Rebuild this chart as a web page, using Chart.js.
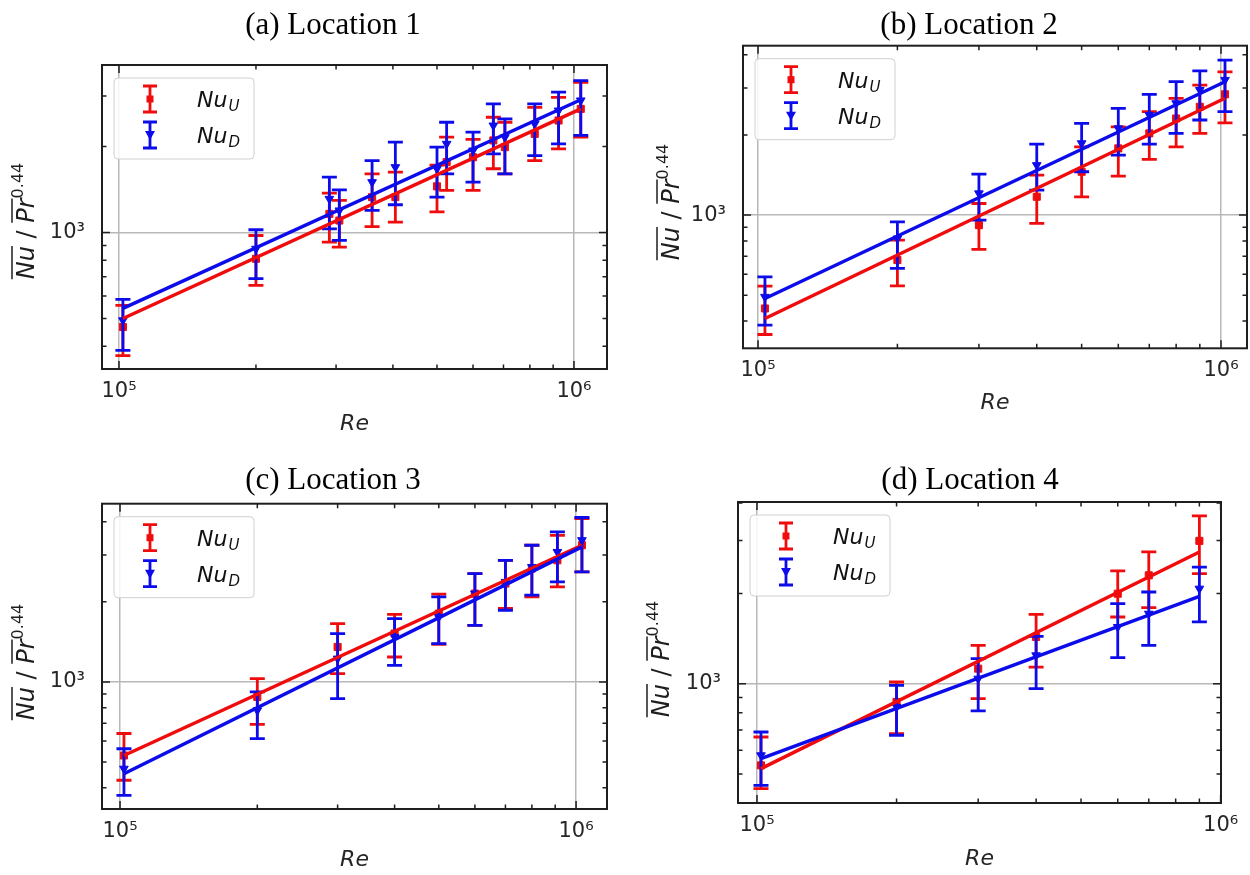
<!DOCTYPE html>
<html>
<head>
<meta charset="utf-8">
<script src="https://cdn.jsdelivr.net/npm/chart.js@4.4.1/dist/chart.umd.min.js"></script>
<style>
  body { margin: 0; background: #fff; overflow: hidden; }
  #fig { position: relative; width: 1250px; height: 875px; overflow: hidden; }
  canvas { position: absolute; }
</style>
</head>
<body>
<div id="fig">
  <canvas id="ca" width="625" height="437" style="left:0px;top:0px"></canvas>
  <canvas id="cb" width="640" height="437" style="left:625px;top:0px"></canvas>
  <canvas id="cc" width="625" height="438" style="left:0px;top:437px"></canvas>
  <canvas id="cd" width="650" height="438" style="left:615px;top:437px"></canvas>
</div>
<script>
const RED = 'rgb(240, 12, 12)';
const BLUE = 'rgb(12, 12, 235)';

// tick labels
const xTickVals = [1e5, 1e6];
const yTickVals = [1e3];
const tickText = { 1000: '10³', 100000: '10⁵', 1000000: '10⁶' };

// (a) Location 1
const reA = [1.02e5, 2.0e5, 2.9e5, 3.05e5, 3.6e5, 4.05e5, 5.0e5, 5.25e5, 6.0e5, 6.65e5, 7.05e5, 8.2e5, 9.25e5, 1.035e6];
const nuUA = [467, 809, 1162, 1101, 1329, 1329, 1450, 1762, 1833, 2099, 1988, 2213, 2464, 2706];
const nuUALow = [371, 653, 925, 889, 1049, 1087, 1180, 1403, 1403, 1671, 1604, 1785, 1962, 2154];
const nuUAHigh = [556, 976, 1373, 1294, 1603, 1625, 1720, 2154, 2115, 2530, 2430, 2739, 2970, 3352];
const nuDA = [493, 877, 1311, 1194, 1500, 1692, 1671, 2042, 1935, 2366, 2154, 2399, 2670, 2896];
const nuDALow = [387, 689, 1030, 938, 1194, 1250, 1329, 1604, 1500, 1884, 1604, 1857, 2042, 2185];
const nuDAHigh = [583, 1022, 1561, 1410, 1785, 2069, 1988, 2430, 2243, 2815, 2498, 2815, 3096, 3397];
const fitReA = [1.02e5, 1.035e6];
const fitUA = [500, 2706];
const fitDA = [543, 2912];

// (b) Location 2
const reB = [1.035e5, 2.0e5, 3.0e5, 4.0e5, 5.0e5, 6.0e5, 7.0e5, 8.0e5, 9.0e5, 1.02e6];
const nuUB = [446, 678, 917, 1172, 1455, 1781, 2028, 2307, 2553, 2843];
const nuUBLow = [356, 542, 743, 931, 1172, 1402, 1620, 1806, 2028, 2222];
const nuUBHigh = [541, 805, 1106, 1414, 1806, 2147, 2446, 2746, 3080, 3454];
const nuDB = [493, 817, 1207, 1541, 1862, 2118, 2378, 2631, 2952, 3221];
const nuDBLow = [386, 631, 957, 1242, 1455, 1681, 1848, 2028, 2277, 2446];
const nuDBHigh = [586, 944, 1426, 1848, 2213, 2519, 2843, 3173, 3481, 3823];
const fitReB = [1.035e5, 1.02e6];
const fitUB = [409, 2748];
const fitDB = [486, 3170];

// (c) Location 3
const reC = [1.02e5, 2.0e5, 3.0e5, 4.0e5, 5.0e5, 6.0e5, 7.0e5, 8.0e5, 9.1e5, 1.03e6];
const nuUC = [529, 878, 1354, 1520, 1807, 2148, 2343, 2669, 2866, 3265];
const nuUCLow = [427, 693, 1075, 1241, 1386, 1633, 1888, 2088, 2277, 2594];
const nuUCHigh = [640, 1029, 1657, 1796, 2139, 2552, 2866, 3265, 3558, 4111];
const nuDC = [472, 782, 1224, 1476, 1754, 2148, 2377, 2705, 3080, 3411];
const nuDCLow = [375, 612, 865, 1155, 1393, 1633, 1860, 2120, 2377, 2594];
const nuDCHigh = [561, 917, 1520, 1730, 2088, 2552, 2866, 3265, 3664, 4150];
const fitReC = [1.02e5, 1.03e6];
const fitUC = [529, 3265];
const fitDC = [452, 3220];

// (d) Location 4
const reD = [1.02e5, 2.0e5, 3.0e5, 4.0e5, 6.0e5, 7.0e5, 9.0e5];
const nuUD = [534, 869, 1122, 1431, 1995, 2297, 2993];
const nuUDLow = [447, 681, 891, 1136, 1668, 1792, 2326];
const nuUDHigh = [664, 1013, 1342, 1702, 2376, 2750, 3626];
const nuDD = [577, 836, 1039, 1243, 1545, 1711, 2074];
const nuDDLow = [458, 673, 811, 962, 1221, 1342, 1607];
const nuDDHigh = [690, 987, 1212, 1438, 1848, 2021, 2448];
const fitReD = [1.02e5, 9.0e5];
const fitUD = [521, 2748];
const fitDD = [562, 1954];

const panels = [
  { id: 'ca', title: '(a) Location 1', pl: 50, pr: 9, yw: 52, wr: 9, xh: 68, tTop: 7, tBot: 20.8, rePad: 0,
    xMin: 91760, xMax: 1.182e6, yMin: 333, yMax: 3853, ylab: [25, 221],
    re: reA, u: nuUA, uLo: nuUALow, uHi: nuUAHigh, d: nuDA, dLo: nuDALow, dHi: nuDAHigh,
    fitRe: fitReA, fitU: fitUA, fitD: fitDA },
  { id: 'cb', title: '(b) Location 2', pl: 66, pr: 18, yw: 52, wr: 0, xh: 88.7, tTop: 7, tBot: 1.5, rePad: 21,
    xMin: 92800, xMax: 1.138e6, yMin: 316, yMax: 4330, ylab: [45, 202],
    re: reB, u: nuUB, uLo: nuUBLow, uHi: nuUBHigh, d: nuDB, dLo: nuDBLow, dHi: nuDBHigh,
    fitRe: fitReB, fitU: fitUB, fitD: fitDB },
  { id: 'cc', title: '(c) Location 3', pl: 50, pr: 9, yw: 52, wr: 9, xh: 66, tTop: 25.5, tBot: 4, rePad: 2,
    xMin: 91300, xMax: 1.169e6, yMin: 333, yMax: 4677, ylab: [25, 225],
    re: reC, u: nuUC, uLo: nuUCLow, uHi: nuUCHigh, d: nuDC, dLo: nuDCLow, dHi: nuDCHigh,
    fitRe: fitReC, fitU: fitUC, fitD: fitDC },
  { id: 'cd', title: '(d) Location 4', pl: 71, pr: 11, yw: 52, wr: 33, xh: 72, tTop: 25.5, tBot: 2.3, rePad: 3,
    xMin: 91000, xMax: 1.002e6, yMin: 400, yMax: 4034, ylab: [45, 222],
    re: reD, u: nuUD, uLo: nuUDLow, uHi: nuUDHigh, d: nuDD, dLo: nuDDLow, dHi: nuDDHigh,
    fitRe: fitReD, fitU: fitUD, fitD: fitDD }
];

function logTicks(min, max) {
  const out = [];
  for (let e = Math.floor(Math.log10(min)); e <= Math.ceil(Math.log10(max)); e++) {
    for (let k = 1; k <= 9; k++) {
      const v = k * Math.pow(10, e);
      if (v > min && v < max) out.push({ v: v, major: k === 1 });
    }
  }
  return out;
}

function drawMarker(ctx, style, x, y, color) {
  ctx.fillStyle = color;
  ctx.beginPath();
  if (style === 'rect') {
    ctx.rect(x - 3.5, y - 3.5, 7, 7);
  } else {
    ctx.moveTo(x - 5, y - 4);
    ctx.lineTo(x + 5, y - 4);
    ctx.lineTo(x, y + 5);
    ctx.closePath();
  }
  ctx.fill();
}

// error bars drawn just before each scatter dataset
const errorBars = {
  id: 'errorBars',
  beforeDatasetDraw(chart, args) {
    const ds = chart.data.datasets[args.index];
    if (!ds.errLo) return;
    const xs = chart.scales.x, ys = chart.scales.y, ctx = chart.ctx;
    ctx.save();
    ctx.strokeStyle = ds.borderColor;
    ctx.lineWidth = 2.8;
    ds.data.forEach((pt, i) => {
      const px = xs.getPixelForValue(pt.x);
      const y1 = ys.getPixelForValue(ds.errLo[i]);
      const y2 = ys.getPixelForValue(ds.errHi[i]);
      ctx.beginPath();
      ctx.moveTo(px, y1); ctx.lineTo(px, y2);
      ctx.moveTo(px - 7.5, y1); ctx.lineTo(px + 7.5, y1);
      ctx.moveTo(px - 7.5, y2); ctx.lineTo(px + 7.5, y2);
      ctx.stroke();
    });
    ctx.restore();
  }
};

// frame, inward ticks, legend and y label
const decor = {
  id: 'decor',
  afterDraw(chart, args, opts) {
    const ctx = chart.ctx, ca = chart.chartArea;
    const xs = chart.scales.x, ys = chart.scales.y;
    ctx.save();
    ctx.strokeStyle = '#1e1e1e';
    ctx.lineWidth = 1.5;
    ctx.beginPath();
    logTicks(xs.min, xs.max).forEach(t => {
      const px = xs.getPixelForValue(t.v), len = t.major ? 8 : 4.5;
      ctx.moveTo(px, ca.bottom); ctx.lineTo(px, ca.bottom - len);
      ctx.moveTo(px, ca.top); ctx.lineTo(px, ca.top + len);
    });
    logTicks(ys.min, ys.max).forEach(t => {
      const py = ys.getPixelForValue(t.v), len = t.major ? 8 : 4.5;
      ctx.moveTo(ca.left, py); ctx.lineTo(ca.left + len, py);
      ctx.moveTo(ca.right, py); ctx.lineTo(ca.right - len, py);
    });
    ctx.stroke();
    ctx.lineWidth = 2;
    ctx.strokeRect(ca.left, ca.top, ca.right - ca.left, ca.bottom - ca.top);

    // legend
    const bx = ca.left + 12, by = ca.top + 13, bw = 140, bh = 81;
    ctx.beginPath();
    ctx.roundRect(bx, by, bw, bh, 4);
    ctx.fillStyle = 'rgba(255,255,255,0.85)';
    ctx.fill();
    ctx.strokeStyle = '#d0d0d0';
    ctx.lineWidth = 1;
    ctx.stroke();
    [{ c: RED, s: 'rect', sub: 'U', dy: 21 }, { c: BLUE, s: 'tri', sub: 'D', dy: 57 }].forEach(e => {
      const cx = bx + 36, cy = by + e.dy;
      ctx.strokeStyle = e.c;
      ctx.lineWidth = 2.8;
      ctx.beginPath();
      ctx.moveTo(cx, cy - 13); ctx.lineTo(cx, cy + 13);
      ctx.moveTo(cx - 7, cy - 13); ctx.lineTo(cx + 7, cy - 13);
      ctx.moveTo(cx - 7, cy + 13); ctx.lineTo(cx + 7, cy + 13);
      ctx.stroke();
      drawMarker(ctx, e.s, cx, cy, e.c);
      ctx.fillStyle = '#111';
      ctx.textBaseline = 'alphabetic';
      ctx.textAlign = 'left';
      ctx.font = 'italic 22px "DejaVu Sans"';
      ctx.fillText('Nu', bx + 83, cy + 8);
      const w = ctx.measureText('Nu').width;
      ctx.font = 'italic 15px "DejaVu Sans"';
      ctx.fillText(e.sub, bx + 83 + w + 1, cy + 12);
    });

    // y axis label: Nu / Pr^0.44 with overlines
    const [lx, ly] = opts.ylab;
    ctx.translate(lx, ly);
    ctx.rotate(-Math.PI / 2);
    const parts = [
      { t: 'Nu', f: 'italic 24px "DejaVu Sans"', over: true, dy: 0 },
      { t: ' / ', f: '24px "DejaVu Sans"', over: false, dy: 0 },
      { t: 'Pr', f: 'italic 24px "DejaVu Sans"', over: true, dy: 0 },
      { t: '0.44', f: '16px "DejaVu Sans"', over: false, dy: -11 }
    ];
    let total = 0;
    parts.forEach(p => { ctx.font = p.f; p.w = ctx.measureText(p.t).width; total += p.w; });
    let x = -total / 2;
    const base = 9;
    ctx.fillStyle = '#1e1e1e';
    ctx.strokeStyle = '#1e1e1e';
    ctx.lineWidth = 1.5;
    parts.forEach(p => {
      ctx.font = p.f;
      ctx.fillText(p.t, x, base + p.dy);
      if (p.over) {
        ctx.beginPath();
        ctx.moveTo(x, base - 22);
        ctx.lineTo(x + p.w, base - 22);
        ctx.stroke();
      }
      x += p.w;
    });
    ctx.restore();
  }
};

function pts(xs, ys) {
  return xs.map((x, i) => ({ x: x, y: ys[i] }));
}

panels.forEach(p => {
  new Chart(document.getElementById(p.id), {
    type: 'scatter',
    data: {
      datasets: [
        { label: 'fit D', data: pts(p.fitRe, p.fitD), showLine: true, borderColor: BLUE, borderWidth: 3.5, pointRadius: 0,
          xAxisID: 'x', yAxisID: 'y' },
        { label: 'fit U', data: pts(p.fitRe, p.fitU), showLine: true, borderColor: RED, borderWidth: 3.5, pointRadius: 0,
          xAxisID: 'x', yAxisID: 'y' },
        { label: 'Nu_D', data: pts(p.re, p.d), errLo: p.dLo, errHi: p.dHi, borderColor: BLUE, backgroundColor: BLUE,
          pointStyle: 'triangle', rotation: 180, pointRadius: 5, borderWidth: 1, xAxisID: 'x', yAxisID: 'y' },
        { label: 'Nu_U', data: pts(p.re, p.u), errLo: p.uLo, errHi: p.uHi, borderColor: RED, backgroundColor: RED,
          pointStyle: 'rect', pointRadius: 5, borderWidth: 1, xAxisID: 'x', yAxisID: 'y' }
      ]
    },
    options: {
      responsive: false,
      animation: false,
      layout: { padding: { left: p.pl, right: p.pr, top: 0, bottom: 0 } },
      plugins: {
        legend: { display: false },
        tooltip: { enabled: false },
        title: { display: true, text: p.title, color: '#000',
          font: { family: 'Liberation Serif', size: 31, weight: 'normal' },
          padding: { top: p.tTop, bottom: p.tBot } },
        decor: { ylab: p.ylab }
      },
      scales: {
        x: {
          type: 'logarithmic', min: p.xMin, max: p.xMax,
          afterBuildTicks: s => { s.ticks = xTickVals.map(v => ({ value: v, major: true })); },
          afterFit: s => { s.height = p.xh; },
          grid: { color: '#b8b8b8', lineWidth: 1.5, drawTicks: false },
          border: { display: false },
          ticks: { callback: v => tickText[v], color: '#262626', padding: 10, maxRotation: 0, autoSkip: false,
            font: { family: 'DejaVu Sans', size: 21 } },
          title: { display: true, text: 'Re', color: '#262626',
            font: { family: 'DejaVu Sans', size: 22, style: 'italic' }, padding: { top: 0, bottom: p.rePad } }
        },
        y: {
          type: 'logarithmic', min: p.yMin, max: p.yMax,
          afterBuildTicks: s => { s.ticks = yTickVals.map(v => ({ value: v, major: true })); },
          afterFit: s => { s.width = p.yw; },
          grid: { color: '#b8b8b8', lineWidth: 1.5, drawTicks: false },
          border: { display: false },
          ticks: { callback: v => tickText[v], color: '#262626', padding: 17, autoSkip: false,
            font: { family: 'DejaVu Sans', size: 21 } }
        },
        yr: {
          type: 'linear', position: 'right',
          afterFit: s => { s.width = p.wr; },
          grid: { display: false },
          border: { display: false },
          ticks: { display: false }
        }
      }
    },
    plugins: [errorBars, decor]
  });
});
</script>
</body>
</html>
